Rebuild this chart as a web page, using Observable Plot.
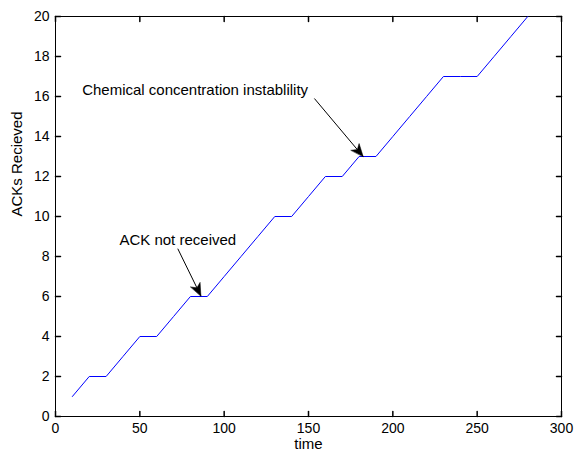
<!DOCTYPE html>
<html>
<head>
<meta charset="utf-8">
<script src="https://cdn.jsdelivr.net/npm/d3@7"></script>
<script src="https://cdn.jsdelivr.net/npm/@observablehq/plot@0.6"></script>
<style>
  html, body { margin: 0; padding: 0; background: #fff; }
  #chart { width: 575px; height: 454px; }
</style>
</head>
<body>
<div id="chart"></div>
<script>
// ---- data ----
const time = [10,20,30,40,50,60,70,80,90,100,110,120,130,140,150,160,170,180,190,200,210,220,230,240,250,260,270,280];
const acks = [1,2,2,3,4,4,5,6,6,7,8,9,10,10,11,12,12,13,13,14,15,16,17,17,17,18,19,20];

const xTicks = [0,50,100,150,200,250,300];
const yTicks = [0,2,4,6,8,10,12,14,16,18,20];

const noteLabels = ["ACK not received", "Chemical concentration instablility"];
const noteTextX = [37.9, 15.8];
const noteTextY = [8.8, 16.33];
const arrowFromX = [72.5, 153.5];
const arrowFromY = [8.39, 15.9];
const arrowToX = [86.2, 182.4];
const arrowToY = [6.03, 13.0];

const xLabel = "time";
const yLabel = "ACKs Recieved";

// ---- layout ----
const W = 575, H = 454;
const mL = 55, mR = 14, mT = 16, mB = 38;
const xDomain = [0, 300], yDomain = [0, 20];

const line = time.map((t, i) => ({t, a: acks[i]}));
const idx = noteLabels.map((_, i) => i);

// pixel-space angle for arrowheads
const sx = Plot.scale({x: {domain: xDomain, range: [mL, W - mR]}});
const sy = Plot.scale({y: {domain: yDomain, range: [H - mB, mT]}});
const headRot = idx.map(i => {
  const dx = sx.apply(arrowToX[i]) - sx.apply(arrowFromX[i]);
  const dy = sy.apply(arrowToY[i]) - sy.apply(arrowFromY[i]);
  return Math.atan2(dx, -dy) * 180 / Math.PI;
});

const tickShape = {draw(ctx, l) { ctx.moveTo(0, 0); ctx.lineTo(0, -l); }};
const headShape = {draw(ctx, l) {
  ctx.moveTo(0, -l);
  ctx.lineTo(-5.2, 0);
  ctx.lineTo(0, -3.5);
  ctx.lineTo(5.2, 0);
  ctx.closePath();
}};

const font = "'Liberation Sans', Arial, Helvetica, sans-serif";

const plot = Plot.plot({
  width: W, height: H,
  marginLeft: mL, marginRight: mR, marginTop: mT, marginBottom: mB,
  style: {fontFamily: font, fontSize: "14px", background: "#fff", color: "#000", overflow: "visible"},
  x: {domain: xDomain, label: null},
  y: {domain: yDomain, label: null},
  marks: [
    Plot.frame({stroke: "#000", strokeWidth: 1}),
    // inward ticks on all four sides
    Plot.vector(xTicks, {x: d => d, frameAnchor: "bottom", rotate: 0, length: 5, anchor: "start", shape: tickShape, stroke: "#000"}),
    Plot.vector(xTicks, {x: d => d, frameAnchor: "top", rotate: 180, length: 5, anchor: "start", shape: tickShape, stroke: "#000"}),
    Plot.vector(yTicks, {y: d => d, frameAnchor: "left", rotate: 90, length: 5, anchor: "start", shape: tickShape, stroke: "#000"}),
    Plot.vector(yTicks, {y: d => d, frameAnchor: "right", rotate: 270, length: 5, anchor: "start", shape: tickShape, stroke: "#000"}),
    Plot.axisX({ticks: xTicks, tickSize: 0, tickPadding: 7, label: null, fontSize: 14}),
    Plot.axisY({ticks: yTicks, tickSize: 0, tickPadding: 6, label: null, fontSize: 14}),
    // axis titles
    Plot.text([xLabel], {text: d => d, frameAnchor: "bottom", dy: 28, fontSize: 15, lineAnchor: "middle"}),
    Plot.text([yLabel], {text: d => d, frameAnchor: "left", dx: -38, rotate: -90, fontSize: 15, lineAnchor: "middle"}),
    // data line
    Plot.line(line, {x: "t", y: "a", stroke: "#0000ff", strokeWidth: 1}),
    // annotations
    Plot.link(idx, {x1: i => arrowFromX[i], y1: i => arrowFromY[i], x2: i => arrowToX[i], y2: i => arrowToY[i], stroke: "#000", strokeWidth: 1}),
    Plot.vector(idx, {x: i => arrowToX[i], y: i => arrowToY[i], rotate: i => headRot[i], length: 12.5, anchor: "end", shape: headShape, fill: "#000", stroke: "#000", strokeWidth: 0.5}),
    Plot.text(idx, {x: i => noteTextX[i], y: i => noteTextY[i], text: i => noteLabels[i], textAnchor: "start", lineAnchor: "middle", fontSize: 15, fill: "#000"})
  ]
});

document.getElementById("chart").appendChild(plot);
</script>
</body>
</html>
